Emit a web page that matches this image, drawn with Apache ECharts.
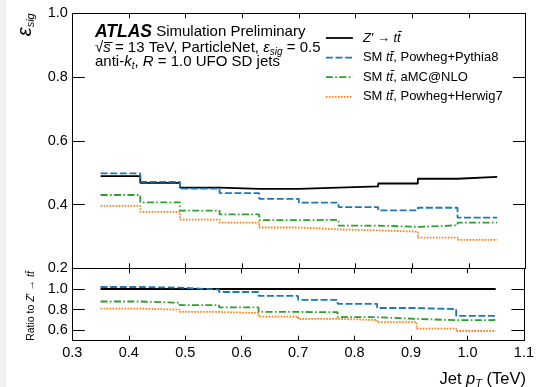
<!DOCTYPE html>
<html>
<head>
<meta charset="utf-8">
<title>Signal efficiency vs jet pT</title>
<script src="https://cdn.jsdelivr.net/npm/echarts@6/dist/echarts.min.js"></script>
<style>
html, body { margin: 0; padding: 0; background: #fff; }
#chart { width: 537px; height: 387px; }
</style>
</head>
<body>
<div id="chart"></div>
<script>
// jet pT bin edges (TeV)
var binEdges = [0.35, 0.42, 0.49, 0.56, 0.63, 0.70, 0.77, 0.84, 0.91, 0.98, 1.05];

// signal efficiency per bin
var effZprime = [0.489, 0.468, 0.453, 0.449, 0.449, 0.453, 0.457, 0.466, 0.481, 0.487];
var effPythia = [0.498, 0.471, 0.450, 0.436, 0.418, 0.406, 0.392, 0.382, 0.390, 0.359];
var effAmc    = [0.430, 0.407, 0.381, 0.369, 0.351, 0.352, 0.334, 0.330, 0.335, 0.343];
var effHerwig = [0.396, 0.377, 0.353, 0.343, 0.328, 0.322, 0.319, 0.315, 0.296, 0.289];

// ratio to Z' -> tt
var ratioZprime = [1.0, 1.0, 1.0, 1.0, 1.0, 1.0, 1.0, 1.0, 1.0, 1.0];
var ratioPythia = [1.019, 1.013, 0.994, 0.971, 0.933, 0.895, 0.857, 0.816, 0.806, 0.740];
var ratioAmc    = [0.879, 0.867, 0.844, 0.822, 0.778, 0.775, 0.727, 0.711, 0.698, 0.700];
var ratioHerwig = [0.810, 0.800, 0.778, 0.768, 0.733, 0.711, 0.700, 0.679, 0.616, 0.594];

// tick labels
var xTicks = [0.3, 0.4, 0.5, 0.6, 0.7, 0.8, 0.9, 1.0, 1.1];
var yTicksTop = [0.2, 0.4, 0.6, 0.8, 1.0];
var yTicksRatio = [0.6, 0.8, 1.0];

var seriesNames = ['Zprime', 'Pythia', 'Amc', 'Herwig'];
var legendLabels = {
  Zprime: '{i|Z′} {n|→} {i|tt̄}',
  Pythia: '{n|SM }{i|tt̄}{n|, Powheg+Pythia8}',
  Amc: '{n|SM }{i|tt̄}{n|, aMC@NLO}',
  Herwig: '{n|SM }{i|tt̄}{n|, Powheg+Herwig7}'
};

var FONT = 'Liberation Sans';
var colors = ['#000000', '#1f77b4', '#2ca02c', '#ff7f0e'];
var dashes = ['solid', [7, 2.6], [7, 2.4, 1.6, 2.4], [1.6, 1.4]];

function stepData(vals) {
  return binEdges.map(function (x, i) {
    return [x, vals[Math.min(i, vals.length - 1)]];
  });
}

function fmt(v) { return v.toFixed(1); }

function xAxis(grid, pos, labels) {
  return {
    type: 'value', gridIndex: grid, position: pos, min: 0.3, max: 1.1,
    axisLine: { show: true, onZero: false, lineStyle: { color: '#000', width: 1 } },
    axisTick: { show: true, inside: true, length: 5, customValues: xTicks, lineStyle: { color: '#000' } },
    axisLabel: { show: labels, customValues: xTicks, formatter: fmt, margin: 5,
      fontFamily: FONT, fontSize: 14.5, color: '#000' },
    splitLine: { show: false }
  };
}

function yAxis(grid, pos, min, max, ticks, labels) {
  return {
    type: 'value', gridIndex: grid, position: pos, min: min, max: max,
    axisLine: { show: true, onZero: false, lineStyle: { color: '#000', width: 1 } },
    axisTick: { show: true, inside: true, length: 12.5, customValues: ticks, lineStyle: { color: '#000' } },
    axisLabel: { show: labels, customValues: ticks, formatter: fmt, margin: 4.5,
      fontFamily: FONT, fontSize: 14.5, color: '#000' },
    splitLine: { show: false }
  };
}

var effSets = [effZprime, effPythia, effAmc, effHerwig];
var ratioSets = [ratioZprime, ratioPythia, ratioAmc, ratioHerwig];
var series = [];
effSets.forEach(function (vals, k) {
  series.push({
    name: seriesNames[k], type: 'line', step: 'end', xAxisIndex: 0, yAxisIndex: 0,
    symbol: 'none', showSymbol: false, data: stepData(vals),
    itemStyle: { color: colors[k] },
    lineStyle: { color: colors[k], width: 1.8, type: dashes[k] }
  });
});
ratioSets.forEach(function (vals, k) {
  series.push({
    name: 'ratio ' + seriesNames[k], type: 'line', step: 'end', xAxisIndex: 2, yAxisIndex: 2,
    symbol: 'none', showSymbol: false, data: stepData(vals),
    itemStyle: { color: colors[k] },
    lineStyle: { color: colors[k], width: 1.8, type: dashes[k] }
  });
});

function tok(size, italic, extra) {
  var s = { fontFamily: FONT, fontSize: size, fontStyle: italic ? 'italic' : 'normal',
    fill: '#000', color: '#000', verticalAlign: 'middle' };
  for (var k in extra) s[k] = extra[k];
  return s;
}

var chart = echarts.init(document.getElementById('chart'));
var option = {
  animation: false,
  backgroundColor: '#fff',
  textStyle: { fontFamily: FONT },
  grid: [
    { left: 72.3, right: 11.5, top: 13.3, height: 255 },
    { left: 72.3, right: 11.5, top: 268.3, height: 72.4 }
  ],
  xAxis: [xAxis(0, 'bottom', false), xAxis(0, 'top', false), xAxis(1, 'bottom', true), xAxis(1, 'top', false)],
  yAxis: [
    yAxis(0, 'left', 0.2, 1.0, yTicksTop, true), yAxis(0, 'right', 0.2, 1.0, yTicksTop, false),
    yAxis(1, 'left', 0.5, 1.2, yTicksRatio, true), yAxis(1, 'right', 0.5, 1.2, yTicksRatio, false)
  ],
  legend: {
    data: seriesNames, orient: 'vertical', left: 325, top: 31.5, padding: 0,
    itemWidth: 27, itemHeight: 14, itemGap: 6.6, selectedMode: false,
    itemStyle: { opacity: 0 },
    lineStyle: { width: 1.8 },
    formatter: function (name) { return legendLabels[name]; },
    textStyle: {
      fontFamily: FONT, fontSize: 13, color: '#000', padding: [0, 0, 0, 5],
      rich: {
        n: { fontFamily: FONT, fontSize: 13, color: '#000' },
        i: { fontFamily: FONT, fontSize: 13, fontStyle: 'italic', color: '#000' }
      }
    }
  },
  graphic: [
    { type: 'rect', z: -10, shape: { x: 0, y: 0, width: 6, height: 387 }, style: { fill: '#f0f0f0' } },
    {
      type: 'text', x: 95, y: 32,
      style: {
        text: '{b|ATLAS}{r| Simulation Preliminary}', align: 'left', verticalAlign: 'middle',
        rich: { b: tok(17.5, true, { fontWeight: 'bold' }), r: tok(15, false) }
      }
    },
    {
      type: 'text', x: 95, y: 47.5,
      style: {
        text: '{r|√}{i|s\u0305}{r| = 13 TeV, ParticleNet, }{i|ε}{s|sig}{r| = 0.5}',
        align: 'left', verticalAlign: 'middle',
        rich: { r: tok(15, false), i: tok(15, true), s: tok(10, true, { padding: [10, 0, 0, 0] }) }
      }
    },
    {
      type: 'text', x: 95, y: 61.5,
      style: {
        text: '{r|anti-}{i|k}{s|t}{r|, }{i|R}{r| = 1.0 UFO SD jets}',
        align: 'left', verticalAlign: 'middle',
        rich: { r: tok(15, false), i: tok(15, true), s: tok(10, true, { padding: [10, 0, 0, 0] }) }
      }
    },
    {
      type: 'text', x: 25, y: 13.3, rotation: Math.PI / 2,
      style: {
        text: '{e|ε}{s|sig}', align: 'right', verticalAlign: 'middle',
        rich: { e: tok(20, true), s: tok(11, true, { padding: [12, 0, 0, 0] }) }
      }
    },
    {
      type: 'text', x: 31, y: 306, rotation: Math.PI / 2,
      style: {
        text: '{r|Ratio to }{i|Z}{r|′ → }{i|tt̄}', align: 'center', verticalAlign: 'middle',
        rich: { r: tok(10.5, false), i: tok(10.5, true) }
      }
    },
    {
      type: 'text', x: 526, y: 379,
      style: {
        text: '{r|Jet }{i|p}{s|T}{r| (TeV)}', align: 'right', verticalAlign: 'middle',
        rich: { r: tok(16.5, false), i: tok(16.5, true), s: tok(11, true, { padding: [10, 0, 0, 0] }) }
      }
    }
  ],
  series: series
};
chart.setOption(option);
</script>
</body>
</html>
